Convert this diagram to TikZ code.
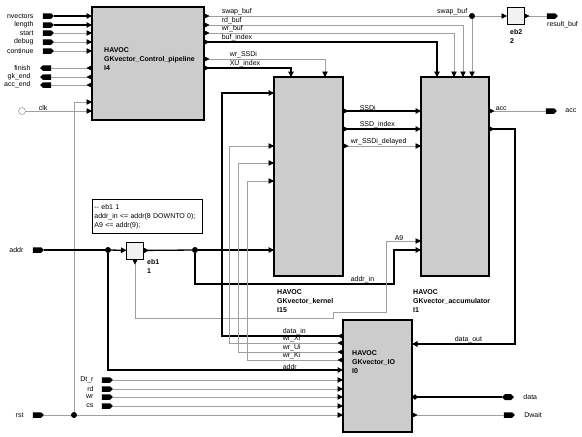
\documentclass[tikz,border=0pt]{standalone}
\usepackage{fontspec}
\setmainfont{Liberation Sans}
\usetikzlibrary{arrows.meta,positioning,shapes.symbols}

\begin{document}
\begin{tikzpicture}[
    x=1pt, y=-1pt,
    font=\fontsize{7}{8.5}\selectfont,
    block/.style={draw, line width=1.1pt, fill=gray!40, inner sep=0pt,
                  outer sep=0pt, anchor=north west},
    ebox/.style={draw, line width=0.9pt, fill=gray!10, inner sep=0pt,
                 outer sep=0pt, minimum width=17pt, minimum height=17pt},
    title/.style={anchor=north west, inner sep=0pt, align=left,
                  font=\fontsize{7}{9}\selectfont\bfseries},
    lab/.style={anchor=south west, inner sep=0.6pt},
    pname/.style={inner sep=0pt},
    portr/.style={signal, signal to=east, fill=black, inner sep=0pt,
                  minimum width=11pt, minimum height=5.5pt},
    portl/.style={signal, signal to=west, fill=black, inner sep=0pt,
                  minimum width=11pt, minimum height=5.5pt},
    portb/.style={signal, signal to=east and west, fill=black, inner sep=0pt,
                  minimum width=12pt, minimum height=6pt},
    sig/.style={draw=gray!75, line width=0.6pt},
    bus/.style={draw=black, line width=1.3pt},
    ain/.style={-{Triangle[length=5.5pt,width=5.5pt,color=black]}},
    aout/.style={{Triangle[reversed,length=5.5pt,width=5.5pt,color=black]}-},
    aboth/.style={{Triangle[reversed,length=5.5pt,width=5.5pt,color=black]}-{Triangle[length=5.5pt,width=5.5pt,color=black]}},
    abid/.style={{Diamond[length=6pt,width=5.5pt,color=black]}-},
    dot/.style={circle, fill=black, inner sep=0pt, minimum size=6pt}
]
\useasboundingbox (0,0) rectangle (582,437);

% blocks
\node[block, minimum width=112pt, minimum height=113pt] (I4) at (92,7) {};
\node[block, minimum width=69pt, minimum height=199pt] (I15) at (274,77) {};
\node[block, minimum width=68pt, minimum height=199pt] (I1) at (421,77) {};
\node[block, minimum width=69pt, minimum height=112pt] (I0) at (343,320) {};
\node[ebox] (eb1) at (135,250.5) {};
\node[ebox] (eb2) at (515.5,16) {};

\node[title] (tI4) at (104,47) {HAVOC\\GKvector\_Control\_pipeline\\I4};
\node[title] (tI15) at (277,289) {HAVOC\\GKvector\_kernel\\I15};
\node[title] (tI1) at (413,289) {HAVOC\\GKvector\_accumulator\\I1};
\node[title] (tI0) at (352,350) {HAVOC\\GKvector\_IO\\I0};
\node[title] (teb1) at (147,259) {eb1\\1};
\node[title] (teb2) at (510,29) {eb2\\2};

\node[draw, line width=0.8pt, anchor=north west, text width=106pt,
      minimum height=34pt, inner sep=2pt, align=left,
      font=\fontsize{7}{9}\selectfont] (cmt) at (92,199)
      {-{}- eb1 1\\addr\_in <= addr(8 DOWNTO 0);\\A9 <= addr(9);};

% left ports of I4
\node[portr] (pnv) at (47,16) {};
\node[pname, left=9pt of pnv] (lnv) {nvectors};
\node[portr] (plen) at (47,25) {};
\node[pname, left=9pt of plen] (llen) {length};
\node[portr] (pst) at (47,33) {};
\node[pname, left=9pt of pst] (lst) {start};
\node[portr] (pdb) at (47,42) {};
\node[pname, left=9pt of pdb] (ldb) {debug};
\node[portr] (pco) at (47,51) {};
\node[pname, left=9pt of pco] (lco) {continue};
\node[portl] (pfi) at (47,68) {};
\node[pname, left=9pt of pfi] (lfi) {finish};
\node[portl] (pgk) at (47,77) {};
\node[pname, left=9pt of pgk] (lgk) {gk\_end};
\node[portl] (pac) at (47,85) {};
\node[pname, left=9pt of pac] (lac) {acc\_end};
\node[circle, draw=gray!75, line width=0.6pt, minimum size=7pt, inner sep=0pt] (pclk) at (22,111) {};
\node[lab] (lclk) at (38,111) {clk};

\draw[bus,ain] (pnv) -- (pnv -| I4.west);
\draw[bus,ain] (plen) -- (plen -| I4.west);
\draw[sig,ain] (pst) -- (pst -| I4.west);
\draw[sig,ain] (pdb) -- (pdb -| I4.west);
\draw[sig,ain] (pco) -- (pco -| I4.west);
\draw[sig,aout] (I4.west |- pfi) -- (pfi);
\draw[sig,aout] (I4.west |- pgk) -- (pgk);
\draw[sig,aout] (I4.west |- pac) -- (pac);
\draw[sig,ain] (pclk) -- (pclk -| I4.west);

% reset
\node[portr] (prst) at (37,415) {};
\node[pname, left=9pt of prst] (lrst) {rst};
\node[dot] (jrst) at (74,415) {};
\coordinate (crst) at (74,102);
\draw[sig,ain] (prst) -- (jrst) -- (jrst -| I0.west);
\draw[sig,ain] (jrst) -- (crst) -- (crst -| I4.west);

% I4 outputs
\node[dot] (jsw) at (472,16) {};
\coordinate (crd) at (463,25);
\coordinate (cwr) at (454,33);
\coordinate (cbi) at (437,42);
\coordinate (cws) at (325,59);
\coordinate (cxu) at (291,68);
\draw[sig,aout] (I4.east |- jsw) -- (jsw);
\draw[sig,ain] (jsw) -- (eb2);
\draw[sig,ain] (jsw) -- (jsw |- I1.north);
\draw[sig,aboth] (I4.east |- crd) -- (crd) -- (crd |- I1.north);
\draw[sig,aboth] (I4.east |- cwr) -- (cwr) -- (cwr |- I1.north);
\draw[bus,aboth] (I4.east |- cbi) -- (cbi) -- (cbi |- I1.north);
\draw[sig,aboth] (I4.east |- cws) -- (cws) -- (cws |- I15.north);
\draw[bus,aboth] (I4.east |- cxu) -- (cxu) -- (cxu |- I15.north);
\node[lab] (lsw) at (221,16) {swap\_buf};
\node[lab, anchor=south east] (lsw2) at (468,16) {swap\_buf};
\node[lab] (lrd) at (221,25) {rd\_buf};
\node[lab] (lwr) at (221,33) {wr\_buf};
\node[lab] (lbi) at (221,42) {buf\_index};
\node[lab] (lws) at (229,59) {wr\_SSDi};
\node[lab] (lxu) at (229,68) {XU\_index};

% result_buf
\node[portr] (pres) at (551,16) {};
\node[pname, anchor=west] (lres) at (547,25) {result\_buf};
\draw[sig,aout] (eb2) -- (pres);

% kernel to accumulator
\coordinate (kssdi) at (380,111);
\coordinate (kidx) at (380,129);
\coordinate (kdel) at (380,146);
\draw[bus,aboth] (I15.east |- kssdi) -- (I1.west |- kssdi);
\draw[bus,aboth] (I15.east |- kidx) -- (I1.west |- kidx);
\draw[sig,aboth] (I15.east |- kdel) -- (I1.west |- kdel);
\node[lab] (lssdi) at (359,111) {SSDi};
\node[lab] (lidx) at (359,129) {SSD\_index};
\node[lab] (ldel) at (350,146) {wr\_SSDi\_delayed};

% accumulator outputs
\node[portr] (pacc) at (550,111) {};
\node[pname, right=8pt of pacc] (lacc2) {acc};
\node[lab] (lacc) at (495,111) {acc};
\draw[sig,aout] (I1.east |- pacc) -- (pacc);
\coordinate (cdo1) at (515,129);
\coordinate (cdo2) at (515,344);
\draw[bus,aboth] (I1.east |- cdo1) -- (cdo1) -- (cdo2) -- (cdo2 -| I0.east);
\node[lab] (ldo) at (454,344) {data\_out};

% addr and eb1
\node[portr] (paddr) at (37,250) {};
\node[pname, left=9pt of paddr] (laddr) {addr};
\node[dot] (ja1) at (108,250) {};
\node[dot] (ja2) at (195,250) {};
\draw[bus] (paddr) -- (ja1);
\draw[bus,ain] (ja1) -- (eb1);
\draw[bus,aout] (eb1) -- (ja2);
\draw[bus,ain] (ja2) -- (ja2 -| I15.west);
\coordinate (cai1) at (195,284);
\coordinate (cai2) at (394,284);
\coordinate (cai3) at (394,250);
\draw[bus,ain] (ja2) -- (cai1) -- (cai2) -- (cai3) -- (cai3 -| I1.west);
\node[lab] (lai) at (350,284) {addr\_in};
\coordinate (cad) at (108,370);
\draw[bus,ain] (ja1) -- (cad) -- (cad -| I0.west);
\node[lab] (lad) at (282,370) {addr};
\coordinate (ca1) at (135,318);
\coordinate (ca2) at (333,318);
\coordinate (ca3) at (333,312);
\coordinate (ca4) at (386,312);
\coordinate (ca5) at (386,241);
\draw[sig,aboth] (eb1) -- (ca1) -- (ca2) -- (ca3) -- (ca4) -- (ca5) -- (ca5 -| I1.west);
\node[lab] (la9) at (394,241) {A9};

% IO to kernel
\coordinate (cdi1) at (222,336);
\coordinate (cdi2) at (222,93);
\coordinate (cxi1) at (229,343);
\coordinate (cxi2) at (229,146);
\coordinate (cui1) at (238,352);
\coordinate (cui2) at (238,163);
\coordinate (cki1) at (247,360);
\coordinate (cki2) at (247,181);
\draw[bus,aboth] (I0.west |- cdi1) -- (cdi1) -- (cdi2) -- (cdi2 -| I15.west);
\draw[sig,aboth] (I0.west |- cxi1) -- (cxi1) -- (cxi2) -- (cxi2 -| I15.west);
\draw[sig,aboth] (I0.west |- cui1) -- (cui1) -- (cui2) -- (cui2 -| I15.west);
\draw[sig,aboth] (I0.west |- cki1) -- (cki1) -- (cki2) -- (cki2 -| I15.west);
\node[lab] (ldi) at (282,336) {data\_in};
\node[lab] (lxi) at (282,343) {wr\_Xi};
\node[lab] (lui) at (282,352) {wr\_Ui};
\node[lab] (lki) at (282,360) {wr\_Ki};

% IO ports
\node[portr] (pdt) at (106,380) {};
\node[pname, left=8pt of pdt] (ldt) {Dt\_r};
\node[portr] (prd) at (106,389) {};
\node[pname, left=8pt of prd] (lrdp) {rd};
\node[portr] (pwr) at (106,397) {};
\node[pname, left=8pt of pwr] (lwrp) {wr};
\node[portr] (pcs) at (106,406) {};
\node[pname, left=8pt of pcs] (lcs) {cs};
\draw[sig,ain] (pdt) -- (pdt -| I0.west);
\draw[sig,ain] (prd) -- (prd -| I0.west);
\draw[sig,ain] (pwr) -- (pwr -| I0.west);
\draw[sig,ain] (pcs) -- (pcs -| I0.west);
\node[portb] (pdata) at (508,397) {};
\node[pname, right=9pt of pdata] (ldata) {data};
\node[portr] (pdw) at (508,415) {};
\node[pname, right=9pt of pdw] (ldw) {Dwait};
\draw[bus,abid] (I0.east |- pdata) -- (pdata);
\draw[sig,aout] (I0.east |- pdw) -- (pdw);
\end{tikzpicture}
\end{document}
